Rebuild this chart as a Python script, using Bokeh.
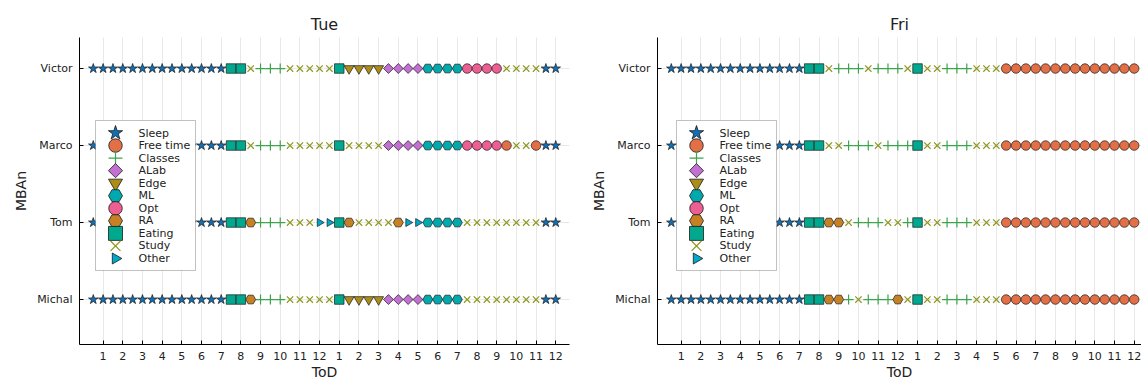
import math
from bokeh.plotting import figure
from bokeh.layouts import row
from bokeh.models import FixedTicker, ColumnDataSource, BoxAnnotation, Label
from bokeh.embed import file_html
from bokeh.resources import INLINE

# ---------------- data ----------------
people = ["Michal", "Tom", "Marco", "Victor"]
activities = ["Sleep", "Free time", "Classes", "ALab", "Edge", "ML", "Opt",
              "RA", "Eating", "Study", "Other"]
hour_ticks = list(range(1, 25))
hour_labels = ["1", "2", "3", "4", "5", "6", "7", "8", "9", "10", "11", "12",
               "1", "2", "3", "4", "5", "6", "7", "8", "9", "10", "11", "12"]
# half-hour slots of the day
slot_hours = [0.5, 1.0, 1.5, 2.0, 2.5, 3.0, 3.5, 4.0, 4.5, 5.0, 5.5, 6.0,
              6.5, 7.0, 7.5, 8.0, 8.5, 9.0, 9.5, 10.0, 10.5, 11.0, 11.5, 12.0,
              12.5, 13.0, 13.5, 14.0, 14.5, 15.0, 15.5, 16.0, 16.5, 17.0, 17.5, 18.0,
              18.5, 19.0, 19.5, 20.0, 20.5, 21.0, 21.5, 22.0, 22.5, 23.0, 23.5, 24.0]

# activity runs (activity, number of consecutive half-hour slots)
tue_victor = [("Sleep", 14), ("Eating", 2), ("Study", 1), ("Classes", 3), ("Study", 5),
              ("Eating", 1), ("Edge", 4), ("ALab", 4), ("ML", 4), ("Opt", 4),
              ("Study", 4), ("Sleep", 2)]
tue_marco = [("Sleep", 14), ("Eating", 2), ("Study", 1), ("Classes", 3), ("Study", 5),
             ("Eating", 1), ("Study", 4), ("ALab", 4), ("ML", 4), ("Opt", 4),
             ("Free time", 1), ("Study", 2), ("Free time", 1), ("Sleep", 2)]
tue_tom = [("Sleep", 14), ("Eating", 2), ("RA", 1), ("Classes", 3), ("Study", 3),
           ("Other", 2), ("Eating", 1), ("RA", 1), ("Study", 4), ("RA", 1),
           ("Other", 2), ("ML", 4), ("Study", 8), ("Sleep", 2)]
tue_michal = [("Sleep", 14), ("Eating", 2), ("RA", 1), ("Classes", 3), ("Study", 5),
              ("Eating", 1), ("Edge", 4), ("ALab", 4), ("ML", 4), ("Study", 8),
              ("Sleep", 2)]

fri_victor = [("Sleep", 14), ("Eating", 2), ("Study", 1), ("Classes", 3), ("Study", 1),
              ("Classes", 3), ("Study", 1), ("Eating", 1), ("Study", 2), ("Classes", 3),
              ("Study", 3), ("Free time", 14)]
fri_marco = [("Sleep", 14), ("Eating", 2), ("Study", 2), ("Classes", 3), ("Study", 1),
             ("Classes", 3), ("Eating", 1), ("Study", 2), ("Classes", 3), ("Study", 3),
             ("Free time", 14)]
fri_tom = [("Sleep", 14), ("Eating", 2), ("RA", 2), ("Study", 1), ("Classes", 3),
           ("Study", 2), ("Classes", 1), ("Eating", 1), ("Study", 2), ("Classes", 3),
           ("Study", 3), ("Free time", 14)]
fri_michal = [("Sleep", 14), ("Eating", 2), ("RA", 2), ("Classes", 1), ("Study", 1),
              ("Classes", 3), ("RA", 1), ("Study", 1), ("Eating", 1), ("Study", 2),
              ("Classes", 3), ("Study", 3), ("Free time", 14)]

days = [("Tue", {"Michal": tue_michal, "Tom": tue_tom, "Marco": tue_marco, "Victor": tue_victor}),
        ("Fri", {"Michal": fri_michal, "Tom": fri_tom, "Marco": fri_marco, "Victor": fri_victor})]

# ---------------- styles ----------------
# marker, colour, plot size, legend size, filled, angle
style = {
    "Sleep":     ("star", "#1170b5", 10, 15, True, 0.0),
    "Free time": ("circle", "#e26f46", 9.5, 13.5, True, 0.0),
    "Classes":   ("cross", "#3da44d", 10, 14, False, 0.0),
    "ALab":      ("square", "#c271d2", 7, 10, True, math.pi / 4),
    "Edge":      ("inverted_triangle", "#ac8d18", 10, 14, True, 0.0),
    "ML":        ("hex", "#00a9ad", 10, 14, True, 0.0),
    "Opt":       ("circle", "#ed5e93", 9.5, 13.5, True, 0.0),
    "RA":        ("hex", "#c68125", 10, 14, True, 0.0),
    "Eating":    ("square", "#00a98d", 9.5, 14, True, 0.0),
    "Study":     ("x", "#8e971e", 9, 14, False, 0.0),
    "Other":     ("triangle", "#00a8cb", 8, 11, True, -math.pi / 2),
}

FONT = "DejaVu Sans"
TXT = "#222222"
FRAME_H = 307
Y_LO, Y_HI = 0.416, 4.403
FRAME_TOP = 37  # px from top of figure


def expand(runs):
    out = []
    for act, n in runs:
        out.extend([act] * n)
    return out


def make_panel(title, data, frame_w, border_left, border_right, x_end, leg_left):
    x_lo = -0.2
    p = figure(frame_width=frame_w, frame_height=FRAME_H,
               output_backend="svg", toolbar_location=None,
               x_range=(x_lo, x_end), y_range=(Y_LO, Y_HI),
               min_border_left=border_left, min_border_right=border_right,
               min_border_top=FRAME_TOP, min_border_bottom=38)
    p.title.text = title
    p.title.align = "center"
    p.title.text_font = FONT
    p.title.text_font_size = "16px"
    p.title.text_font_style = "normal"
    p.title.text_color = TXT
    p.title.standoff = 8
    p.outline_line_color = None
    p.background_fill_color = "white"

    # screen (px inside frame) -> data helpers for the legend block
    def dx(px):
        return x_lo + px / frame_w * (x_end - x_lo)

    def dy(py_from_fig_top):
        return Y_HI - (py_from_fig_top - FRAME_TOP) / FRAME_H * (Y_HI - Y_LO)

    xs = {a: [] for a in activities}
    ys = {a: [] for a in activities}
    for yi, person in enumerate(people):
        acts = expand(data[person])
        for h, a in zip(slot_hours, acts):
            xs[a].append(h)
            ys[a].append(yi + 1)

    for a in activities:
        mk, col, sz, lsz, filled, ang = style[a]
        src = ColumnDataSource(dict(x=xs[a], y=ys[a]))
        p.scatter("x", "y", source=src, marker=mk, size=sz, angle=ang,
                  fill_color=col if filled else None,
                  line_color="#1a1a1a" if filled else col,
                  line_width=0.7 if filled else 1.2)

    # legend block (box, glyphs, labels)
    box_top, box_bot = 120, 270
    box_w = 100
    p.add_layout(BoxAnnotation(left=dx(leg_left), right=dx(leg_left + box_w),
                               top=dy(box_top), bottom=dy(box_bot),
                               fill_color="white", fill_alpha=1.0,
                               line_color="#333333", line_width=1, level="annotation"))
    row_y0, row_step = 132.5, 12.55
    for i, a in enumerate(activities):
        mk, col, sz, lsz, filled, ang = style[a]
        yy = dy(row_y0 + i * row_step)
        p.scatter([dx(leg_left + 20)], [yy], marker=mk, size=lsz, angle=ang,
                  fill_color=col if filled else None,
                  line_color="#1a1a1a" if filled else col,
                  line_width=0.8 if filled else 1.2, level="overlay")
        p.add_layout(Label(x=dx(leg_left + 43), y=yy, text=a, text_font=FONT,
                           text_font_size="11px", text_color=TXT,
                           text_baseline="middle", level="overlay"))

    p.xaxis.ticker = FixedTicker(ticks=hour_ticks)
    p.xaxis.major_label_overrides = {t: l for t, l in zip(hour_ticks, hour_labels)}
    p.yaxis.ticker = FixedTicker(ticks=[1, 2, 3, 4])
    p.yaxis.major_label_overrides = {i + 1: n for i, n in enumerate(people)}
    p.xaxis.axis_label = "ToD"
    p.yaxis.axis_label = "MBAn"
    for ax in (p.xaxis, p.yaxis):
        ax.axis_label_text_font = FONT
        ax.axis_label_text_font_size = "14px"
        ax.axis_label_text_font_style = "normal"
        ax.axis_label_text_color = TXT
        ax.major_label_text_font = FONT
        ax.major_label_text_font_size = "11px"
        ax.major_label_text_color = TXT
        ax.axis_line_color = "black"
        ax.major_tick_line_color = "black"
        ax.major_tick_in = 4
        ax.major_tick_out = 0
        ax.minor_tick_line_color = None
    p.xaxis.major_label_standoff = 7
    p.xaxis.axis_label_standoff = 1
    p.yaxis.major_label_standoff = 7
    p.yaxis.axis_label_standoff = 5
    p.xgrid.grid_line_color = "#e8e8e8"
    p.ygrid.grid_line_color = "#e8e8e8"
    return p


p1 = make_panel(days[0][0], days[0][1], 490, 79, 9, 24.7, 16)
p2 = make_panel(days[1][0], days[1][1], 484, 79, 0, 24.37, 19)
p = row(p1, p2)

open("out.html", "w").write(file_html(p, INLINE))
